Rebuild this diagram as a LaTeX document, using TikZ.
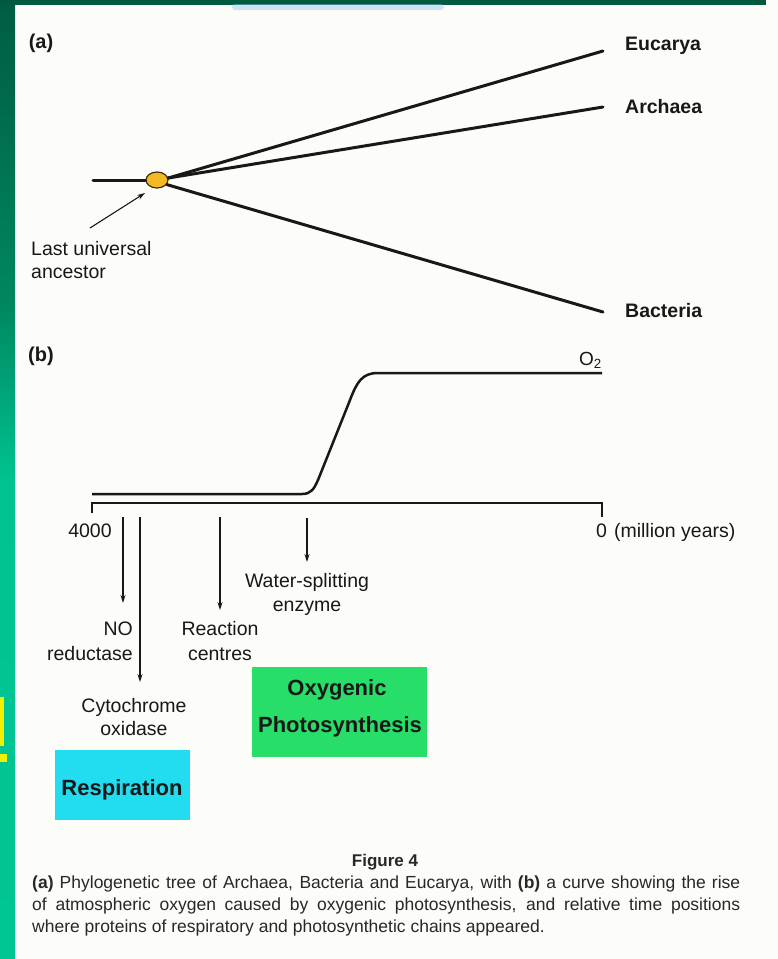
\documentclass[tikz,border=0pt]{standalone}
\usepackage{fontspec}
\setmainfont{Liberation Sans}
\usetikzlibrary{arrows.meta,shapes.geometric}
\definecolor{bgpaper}{RGB}{252,252,248}
\definecolor{ink}{RGB}{24,24,24}
\definecolor{capink}{RGB}{40,40,40}
\definecolor{lucafill}{RGB}{244,184,34}
\definecolor{lucaedge}{RGB}{60,45,20}
\definecolor{respcyan}{RGB}{34,220,240}
\definecolor{photogreen}{RGB}{38,222,104}
\definecolor{stripyellow}{RGB}{240,240,0}
\definecolor{topband}{RGB}{0,90,64}
\definecolor{striptop}{RGB}{0,92,66}
\definecolor{stripq}{RGB}{0,136,96}
\definecolor{stripmid}{RGB}{0,194,144}
\definecolor{stripbot}{RGB}{0,198,148}
\definecolor{blurblue}{RGB}{150,198,240}
\pgfdeclareverticalshading{leftstrip}{100bp}{color(0bp)=(stripbot); color(25bp)=(stripbot); color(50bp)=(stripmid); color(59bp)=(stripq); color(75bp)=(striptop); color(100bp)=(striptop)}
\begin{document}
\begin{tikzpicture}[x=1pt,y=-1pt,
  lbl/.style={font=\fontsize{19.5}{23}\selectfont, text=ink, inner sep=0pt},
  blbl/.style={font=\fontsize{19.5}{23}\selectfont\bfseries, text=ink, inner sep=0pt},
  panellbl/.style={font=\fontsize{20}{23}\selectfont\bfseries, text=ink, inner sep=0pt},
  boxlbl/.style={font=\fontsize{22}{25}\selectfont\bfseries, text=ink, inner sep=0pt},
  caplbl/.style={font=\fontsize{17.5}{22}\selectfont, text=capink, inner sep=0pt, anchor=base west},
  treeline/.style={line width=3pt, draw=ink, line cap=round},
  curveline/.style={line width=2.5pt, draw=ink, line join=round},
  axisline/.style={line width=1.8pt, draw=ink},
  thinarrow/.style={line width=1.1pt, draw=ink, -{Stealth[length=8pt,width=5pt]}},
]
\useasboundingbox (0,0) rectangle (778,959);
% background
\fill[bgpaper] (0,0) rectangle (778,959);
\shade[shading=leftstrip] (0,0) rectangle (15,959);
\fill[topband] (0,0) rectangle (766,5);
\fill[blurblue, opacity=0.45, rounded corners=3pt] (232,4) rectangle (444,10);
\fill[stripyellow] (0,697) rectangle (4,746);
\fill[stripyellow] (0,754) rectangle (7,762);

% ---------- (a) tree ----------
\node[panellbl] (labA) at (41,43) {(a)};
\node[ellipse, draw=lucaedge, fill=lucafill, line width=1.2pt, minimum width=22pt, minimum height=16pt, inner sep=0pt] (luca) at (157,180) {};
\coordinate (rootL) at (93,180);
\coordinate (eucEnd) at (603,51);
\coordinate (arcEnd) at (603,107);
\coordinate (bacEnd) at (603,312);
\draw[treeline] (rootL) -- (luca.west);
\draw[treeline] (luca.10) -- (eucEnd);
\draw[treeline] (luca.10) -- (arcEnd);
\draw[treeline] (luca.-25) -- (bacEnd);
\node[blbl, anchor=base west] (eucLbl) at (625,50) {Eucarya};
\node[blbl, anchor=base west] (arcLbl) at (625,113) {Archaea};
\node[blbl, anchor=base west] (bacLbl) at (625,317) {Bacteria};
\coordinate (lucaTail) at (90,228);
\coordinate (lucaTip) at (145,193);
\draw[thinarrow] (lucaTail) -- (lucaTip);
\node[lbl, anchor=base west] (lucaLbl1) at (31,255) {Last universal};
\node[lbl, anchor=base west] (lucaLbl2) at (31,278) {ancestor};

% ---------- (b) oxygen curve ----------
\node[panellbl] (labB) at (41,356) {(b)};
\node[font=\fontsize{19}{20}\selectfont, text=ink, inner sep=0pt, anchor=base east] (o2) at (602,365) {O\textsubscript{2}};
\coordinate (curveStart) at (92,494);
\coordinate (curveEnd) at (602,373);
\draw[curveline] (curveStart) -- (302,494) .. controls (311,494) and (314,489) .. (318,480) -- (350,400) .. controls (357,382) and (362,373) .. (378,373) -- (curveEnd);
\coordinate (ax0) at (92,503);
\coordinate (ax1) at (602,503);
\coordinate (tick0) at (92,513);
\coordinate (tick1) at (602,517);
\draw[axisline] (tick0) -- (ax0) -- (ax1) -- (tick1);
\node[lbl, anchor=base] (t4000) at (90,537) {4000};
\node[lbl, anchor=base west] (t0) at (596,537) {0\hspace{7pt}(million years)};

% arrows
\coordinate (noTop) at (123,517);
\coordinate (noTip) at (123,603);
\coordinate (cytTop) at (140,517);
\coordinate (cytTip) at (140,682);
\coordinate (rcTop) at (220,517);
\coordinate (rcTip) at (220,610);
\coordinate (wsTop) at (307,518);
\coordinate (wsTip) at (307,562);
\draw[thinarrow] (noTop) -- (noTip);
\draw[thinarrow] (cytTop) -- (cytTip);
\draw[thinarrow] (rcTop) -- (rcTip);
\draw[thinarrow] (wsTop) -- (wsTip);

\node[lbl, anchor=base] (wsLbl1) at (307,587) {Water-splitting};
\node[lbl, anchor=base] (wsLbl2) at (307,611) {enzyme};
\node[lbl, anchor=base east] (noLbl1) at (133,635) {NO};
\node[lbl, anchor=base east] (noLbl2) at (133,660) {reductase};
\node[lbl, anchor=base] (rcLbl1) at (220,635) {Reaction};
\node[lbl, anchor=base] (rcLbl2) at (220,660) {centres};
\node[lbl, anchor=base] (cytLbl1) at (134,712) {Cytochrome};
\node[lbl, anchor=base] (cytLbl2) at (134,735) {oxidase};

% coloured boxes
\fill[respcyan] (55,750) rectangle (190,820);
\node[boxlbl, anchor=base] (respLbl) at (122,795) {Respiration};
\fill[photogreen] (252,667) rectangle (427,757);
\node[boxlbl, anchor=base] (oxyLbl1) at (337,695) {Oxygenic};
\node[boxlbl, anchor=base] (oxyLbl2) at (340,732) {Photosynthesis};

% ---------- caption ----------
\node[font=\fontsize{17}{20}\selectfont\bfseries, text=capink, inner sep=0pt, anchor=base] (figLbl) at (385,866) {Figure 4};
\node[caplbl] (cap1) at (32,888) {\makebox[708pt][s]{\textbf{(a)} Phylogenetic tree of Archaea, Bacteria and Eucarya, with \textbf{(b)} a curve showing the rise}};
\node[caplbl] (cap2) at (32,910) {\makebox[708pt][s]{of atmospheric oxygen caused by oxygenic photosynthesis, and relative time positions}};
\node[caplbl] (cap3) at (32,932) {where proteins of respiratory and photosynthetic chains appeared.};
\end{tikzpicture}
\end{document}
